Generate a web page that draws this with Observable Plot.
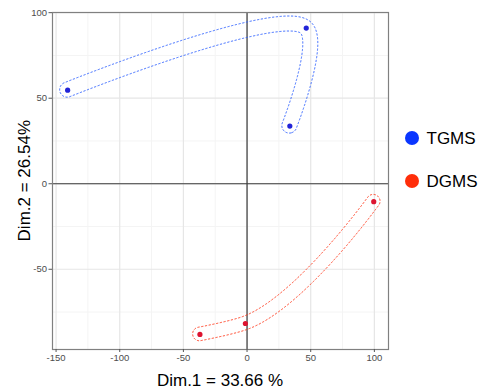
<!DOCTYPE html>
<html>
<head>
<meta charset="utf-8">
<script src="https://cdn.jsdelivr.net/npm/d3@7"></script>
<script src="https://cdn.jsdelivr.net/npm/@observablehq/plot@0.6"></script>
<style>
  body { margin: 0; background: #fff; font-family: "Liberation Sans", Arial, sans-serif; }
  #wrap { position: relative; width: 485px; height: 392px; }
  .lg-dot { position: absolute; width: 14px; height: 14px; border-radius: 50%; }
  .lg-txt { position: absolute; font-size: 17px; line-height: 17px; color: #000; white-space: nowrap; }
</style>
</head>
<body>
<div id="wrap"></div>
<script>
// ---- data ----
const groups = ["TGMS", "DGMS"];
const legendColors = ["#0a36ff", "#ff2e0a"];
const pointColors = ["#2224d8", "#dd1430"];
const hullColors = ["#2f62ff", "#ff3a1c"];
const dim1TGMS = [-140.9, 46.5, 33.6];
const dim2TGMS = [54.7, 91.0, 33.7];
const dim1DGMS = [-37.0, -1.3, 99.5];
const dim2DGMS = [-88.1, -81.7, -10.5];
const xTicks = [-150, -100, -50, 0, 50, 100];
const yTicks = [-50, 0, 50, 100];
const xMinor = [-125, -75, -25, 25, 75];
const yMinor = [-75, -25, 25, 75];
const xLabel = "Dim.1 = 33.66 %";
const yLabel = "Dim.2 = 26.54%";

const series = [
  dim1TGMS.map((x, i) => ({group: groups[0], x, y: dim2TGMS[i]})),
  dim1DGMS.map((x, i) => ({group: groups[1], x, y: dim2DGMS[i]}))
];
const points = series.flat();

// sample a smooth centerline through pixel points using a d3 curve
function sampleCurve(P, curve) {
  const pts = [];
  let cx = 0, cy = 0;
  const ctx = {
    moveTo(x, y) { pts.push([x, y]); cx = x; cy = y; },
    lineTo(x, y) { pts.push([x, y]); cx = x; cy = y; },
    bezierCurveTo(x1, y1, x2, y2, x, y) {
      const N = 60;
      for (let k = 1; k <= N; k++) {
        const t = k / N, u = 1 - t;
        pts.push([u*u*u*cx + 3*u*u*t*x1 + 3*u*t*t*x2 + t*t*t*x,
                  u*u*u*cy + 3*u*u*t*y1 + 3*u*t*t*y2 + t*t*t*y]);
      }
      cx = x; cy = y;
    },
    closePath() {}
  };
  d3.line().curve(curve).context(ctx)(P);
  return pts;
}

// outline of the region within distance r of the centerline (via d3.contours)
function bandPath(C, r) {
  const s = 0.5, pad = r + 4;
  const x0 = d3.min(C, d => d[0]) - pad, x1 = d3.max(C, d => d[0]) + pad;
  const y0 = d3.min(C, d => d[1]) - pad, y1 = d3.max(C, d => d[1]) + pad;
  const w = Math.ceil((x1 - x0) / s), h = Math.ceil((y1 - y0) / s);
  const vals = new Float64Array(w * h);
  for (let j = 0; j < h; j++) {
    const py = y0 + (j + 0.5) * s;
    for (let i = 0; i < w; i++) {
      const px = x0 + (i + 0.5) * s;
      let best = Infinity;
      for (let k = 0; k < C.length - 1; k++) {
        const ax = C[k][0], ay = C[k][1], bx = C[k+1][0], by = C[k+1][1];
        const dx = bx - ax, dy = by - ay;
        const L2 = dx*dx + dy*dy;
        let t = L2 > 0 ? ((px - ax)*dx + (py - ay)*dy) / L2 : 0;
        t = t < 0 ? 0 : t > 1 ? 1 : t;
        const ex = ax + t*dx - px, ey = ay + t*dy - py;
        const dd = ex*ex + ey*ey;
        if (dd < best) best = dd;
      }
      vals[i + j * w] = -Math.sqrt(best);
    }
  }
  const cs = d3.contours().size([w, h]).thresholds([-r])(vals);
  let d = "";
  for (const poly of cs[0].coordinates) {
    for (const ring of poly) {
      d += "M" + ring.map(p => (x0 + p[0]*s).toFixed(2) + "," + (y0 + p[1]*s).toFixed(2)).join("L") + "Z";
    }
  }
  return d;
}

function hullMark(pts, color, r, alpha) {
  return (index, scales) => {
    const P = pts.map(p => [scales.x(p.x), scales.y(p.y)]);
    const C = sampleCurve(P, d3.curveCatmullRom.alpha(alpha));
    const g = d3.create("svg:g");
    g.append("path")
      .attr("d", bandPath(C, r))
      .attr("fill", "none")
      .attr("stroke", color)
      .attr("stroke-width", 1)
      .attr("stroke-dasharray", "2.2,1.6");
    return g.node();
  };
}

const fmt = d => String(d);

const chart = Plot.plot({
  width: 485,
  height: 392,
  marginLeft: 52,
  marginRight: 97,
  marginTop: 12,
  marginBottom: 43,
  x: {domain: [-152.8, 111.1]},
  y: {domain: [-96.9, 100.1]},
  style: {fontFamily: "'Liberation Sans', Arial, sans-serif", background: "#fff", overflow: "visible"},
  marks: [
    Plot.gridX(xMinor, {stroke: "#f4f4f4", strokeOpacity: 1, strokeWidth: 1}),
    Plot.gridY(yMinor, {stroke: "#f4f4f4", strokeOpacity: 1, strokeWidth: 1}),
    Plot.gridX(xTicks, {stroke: "#e6e6e6", strokeOpacity: 1, strokeWidth: 1.2}),
    Plot.gridY(yTicks, {stroke: "#e6e6e6", strokeOpacity: 1, strokeWidth: 1.2}),
    Plot.ruleX([0], {stroke: "#3a3a3a", strokeWidth: 1.2}),
    Plot.ruleY([0], {stroke: "#3a3a3a", strokeWidth: 1.2}),
    hullMark(series[0], hullColors[0], 7.5, 0.5),
    hullMark(series[1], hullColors[1], 6.8, 1),
    Plot.dot(points, {x: "x", y: "y", r: 2.6, fill: d => pointColors[groups.indexOf(d.group)], stroke: "none"}),
    Plot.frame({stroke: "#808080", strokeWidth: 1.2}),
    Plot.axisX(xTicks, {tickSize: 3, tickPadding: 2, fontSize: 9.5, stroke: "#555", fill: "#4d4d4d", tickFormat: fmt, label: null}),
    Plot.axisY(yTicks, {tickSize: 3.5, tickPadding: 2, fontSize: 9.5, stroke: "#555", fill: "#4d4d4d", tickFormat: fmt, label: null})
  ]
});

const svg = d3.select(chart);
svg.append("text")
  .attr("x", 220).attr("y", 386)
  .attr("text-anchor", "middle")
  .attr("font-size", 17).attr("fill", "#000")
  .text(xLabel);
svg.append("text")
  .attr("transform", "translate(30,180.7) rotate(-90)")
  .attr("text-anchor", "middle")
  .attr("font-size", 17).attr("fill", "#000")
  .text(yLabel);

const wrap = document.getElementById("wrap");
wrap.appendChild(chart);

groups.forEach((g, i) => {
  const cy = 137.7 + i * 43;
  const dot = document.createElement("div");
  dot.className = "lg-dot";
  dot.style.left = (412.3 - 7) + "px";
  dot.style.top = (cy - 7) + "px";
  dot.style.background = legendColors[i];
  wrap.appendChild(dot);
  const t = document.createElement("div");
  t.className = "lg-txt";
  t.style.left = "426.5px";
  t.style.top = (cy - 7.7) + "px";
  t.textContent = g;
  wrap.appendChild(t);
});
</script>
</body>
</html>
